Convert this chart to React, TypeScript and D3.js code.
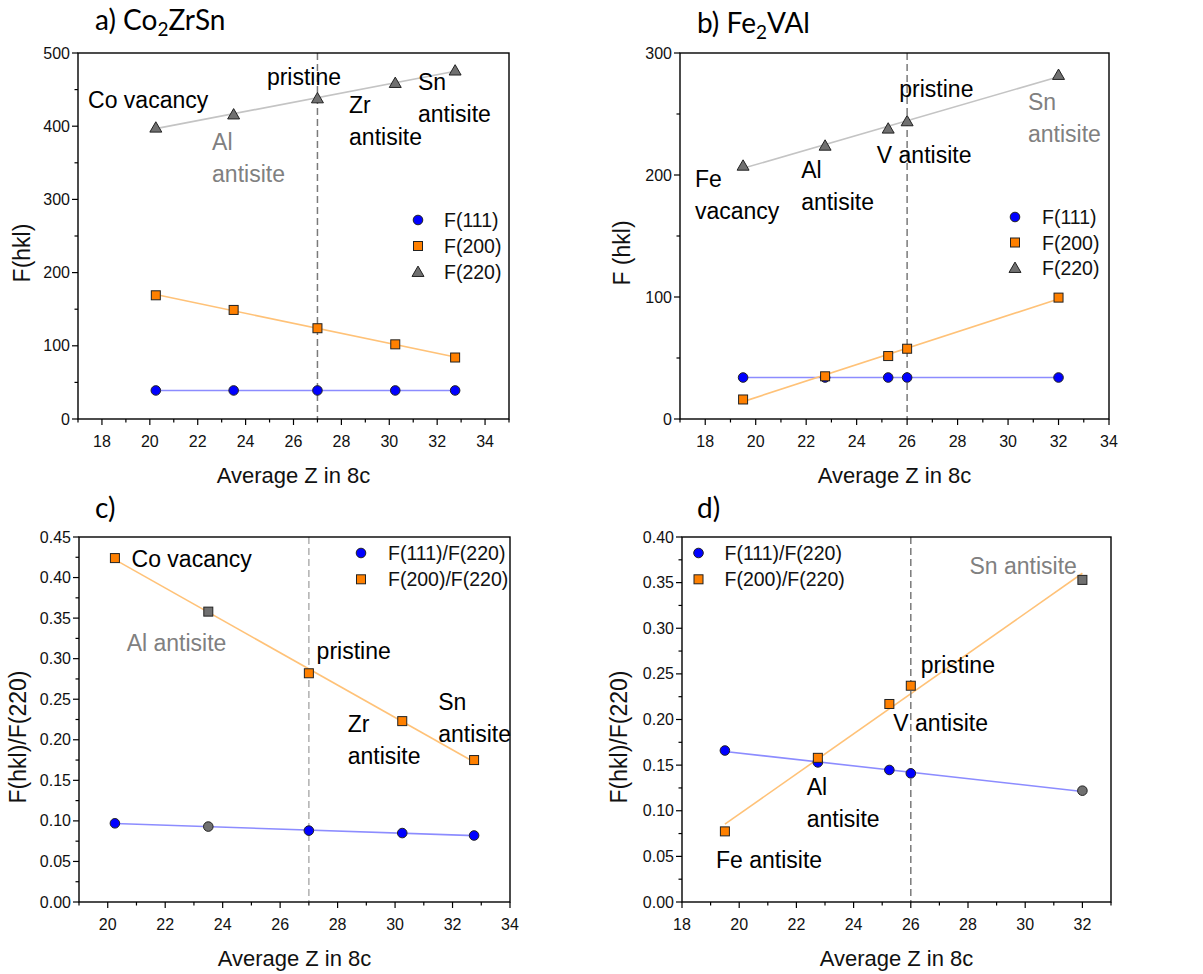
import React from "react";
import * as d3 from "d3";

// ---------- data ----------
const zA = [20.25, 23.5, 27, 30.25, 32.75];
const aF111 = [39, 39, 39, 39, 39];
const aF200 = [169, 149, 124, 102, 84];
const aF220 = [398, 416, 438, 459, 476];

const zB = [19.5, 22.75, 25.25, 26, 32];
const bF111 = [34, 34, 34, 34, 34];
const bF200 = [16, 35, 51.6, 57.6, 99.5];
const bF220 = [207.6, 224, 238, 244, 282];

const cR111 = [0.097, 0.093, 0.088, 0.085, 0.082];
const cR200 = [0.424, 0.358, 0.282, 0.223, 0.175];

const dR111 = [0.166, 0.153, 0.1447, 0.141, 0.122];
const dR200 = [0.0774, 0.158, 0.217, 0.237, 0.353];

const legendAB = ["F(111)", "F(200)", "F(220)"];
const legendCD = ["F(111)/F(220)", "F(200)/F(220)"];

// ---------- styles ----------
const BLUE = "#0000ff";
const ORANGE = "#ff8000";
const GRAY = "#707070";
const LBLUE = "#8c8cff";
const LORANGE = "#ffc278";
const LGRAY = "#c4c4c4";
const LABEL_FONT = "'Liberation Sans', Arial, sans-serif";
const TITLE_FONT = "Lato, 'Open Sans', sans-serif";

type Shape = "circle" | "square" | "triangle";
interface Series { values: number[]; shape: Shape; fill: string; line: string; grayIdx: number[]; }
interface Ann { x: number; y: number; lines: string[]; gray?: boolean; }
interface PanelCfg {
  left: number; top: number; right: number; bottom: number;
  xDom: [number, number]; xTicks: number[]; xMinor: number[];
  yDom: [number, number]; yStep: number; yDec: number;
  z: number[]; series: Series[]; vline: number; vlineColor: string;
  anns: Ann[]; legend: string[]; legendShapes: Shape[]; legendFills: string[];
  legX: number; legY: number; legDy: number; legTextDx: number;
  title: React.ReactNode; titleX: number; titleY: number;
  yLabel: string; yLabelX: number; yLabelY: number;
}

function fit(xs: number[], ys: number[]) {
  const mx = d3.mean(xs)!; const my = d3.mean(ys)!;
  let sxy = 0, sxx = 0;
  xs.forEach((x, i) => { sxy += (x - mx) * (ys[i] - my); sxx += (x - mx) ** 2; });
  const b = sxx === 0 ? 0 : sxy / sxx;
  return (x: number) => my + b * (x - mx);
}

function Marker({ shape, cx, cy, fill }: { shape: Shape; cx: number; cy: number; fill: string }) {
  const st = { fill, stroke: "#222", strokeWidth: 1 };
  if (shape === "circle") return <circle cx={cx} cy={cy} r={4.8} {...st} />;
  if (shape === "square") return <rect x={cx - 4.5} y={cy - 4.5} width={9} height={9} {...st} />;
  const sym = d3.symbol().type(d3.symbolTriangle).size(62)();
  return <path d={sym || ""} transform={`translate(${cx},${cy + 1})`} {...st} />;
}

function Panel({ c }: { c: PanelCfg }) {
  const x = d3.scaleLinear().domain(c.xDom).range([c.left, c.right]);
  const y = d3.scaleLinear().domain(c.yDom).range([c.bottom, c.top]);
  const yMaj = d3.range(c.yDom[0], c.yDom[1] + c.yStep / 2, c.yStep);
  const yMin = d3.range(c.yDom[0] + c.yStep / 2, c.yDom[1], c.yStep);
  const xmin = d3.min(c.z)!, xmax = d3.max(c.z)!;
  return (
    <g>
      {c.series.map((s, i) => {
        const f = fit(c.z, s.values);
        return <line key={"l" + i} x1={x(xmin)} x2={x(xmax)} y1={y(f(xmin))} y2={y(f(xmax))}
          stroke={s.line} strokeWidth={1.6} />;
      })}
      <line x1={x(c.vline)} x2={x(c.vline)} y1={c.top} y2={c.bottom} stroke={c.vlineColor}
        strokeWidth={1.5} strokeDasharray="7,4" />
      {c.series.map((s, i) => s.values.map((v, j) => (
        <Marker key={`m${i}-${j}`} shape={s.shape} cx={x(c.z[j])} cy={y(v)}
          fill={s.grayIdx.includes(j) ? GRAY : s.fill} />
      )))}
      <rect x={c.left} y={c.top} width={c.right - c.left} height={c.bottom - c.top}
        fill="none" stroke="#000" strokeWidth={1.4} />
      {yMaj.map((v, i) => (
        <g key={"yt" + i}>
          <line x1={c.left - 6} x2={c.left} y1={y(v)} y2={y(v)} stroke="#000" strokeWidth={1.2} />
          <text x={c.left - 8} y={y(v)} textAnchor="end" dominantBaseline="central"
            fontFamily={LABEL_FONT} fontSize={16} fill="#111">{v.toFixed(c.yDec)}</text>
        </g>
      ))}
      {yMin.map((v, i) => (
        <line key={"ym" + i} x1={c.left - 3.5} x2={c.left} y1={y(v)} y2={y(v)} stroke="#000" strokeWidth={1.2} />
      ))}
      {c.xTicks.map((v, i) => (
        <g key={"xt" + i}>
          <line x1={x(v)} x2={x(v)} y1={c.bottom} y2={c.bottom + 6} stroke="#000" strokeWidth={1.2} />
          <text x={x(v)} y={c.bottom + 22} textAnchor="middle" dominantBaseline="central"
            fontFamily={LABEL_FONT} fontSize={16} fill="#111">{v}</text>
        </g>
      ))}
      {c.xMinor.map((v, i) => (
        <line key={"xm" + i} x1={x(v)} x2={x(v)} y1={c.bottom} y2={c.bottom + 3.5} stroke="#000" strokeWidth={1.2} />
      ))}
      <text x={(c.left + c.right) / 2} y={c.bottom + 64} textAnchor="middle"
        fontFamily={LABEL_FONT} fontSize={22} fill="#111">Average Z in 8c</text>
      <text transform={`translate(${c.yLabelX},${c.yLabelY}) rotate(-90)`} textAnchor="middle"
        dominantBaseline="central" fontFamily={LABEL_FONT} fontSize={23} fill="#111">{c.yLabel}</text>
      {c.anns.map((a, i) => (
        <text key={"a" + i} x={x(a.x)} y={y(a.y)} fontFamily={LABEL_FONT} fontSize={23}
          fill={a.gray ? "#808080" : "#000"}>
          {a.lines.map((ln, k) => <tspan key={k} x={x(a.x)} dy={k === 0 ? 0 : 32}>{ln}</tspan>)}
        </text>
      ))}
      {c.legend.map((t, i) => (
        <g key={"lg" + i}>
          <Marker shape={c.legendShapes[i]} cx={c.left + c.legX} cy={c.top + c.legY + i * c.legDy}
            fill={c.legendFills[i]} />
          <text x={c.left + c.legX + c.legTextDx} y={c.top + c.legY + i * c.legDy}
            dominantBaseline="central" fontFamily={LABEL_FONT} fontSize={19.5} fill="#111">{t}</text>
        </g>
      ))}
      <text x={c.titleX} y={c.titleY} fontFamily={TITLE_FONT} fontSize={28} fill="#000">{c.title}</text>
    </g>
  );
}

const sub = (s: string) => <tspan fontSize={19} dy={6}>{s}</tspan>;
const up = (s: string) => <tspan dy={-6}>{s}</tspan>;

const panels: PanelCfg[] = [
  {
    left: 78, top: 53, right: 509, bottom: 419,
    xDom: [17, 35], xTicks: d3.range(18, 35, 2), xMinor: d3.range(17, 36, 2),
    yDom: [0, 500], yStep: 100, yDec: 0, z: zA,
    series: [
      { values: aF111, shape: "circle", fill: BLUE, line: LBLUE, grayIdx: [] },
      { values: aF200, shape: "square", fill: ORANGE, line: LORANGE, grayIdx: [] },
      { values: aF220, shape: "triangle", fill: GRAY, line: LGRAY, grayIdx: [] },
    ],
    vline: 27, vlineColor: "#7a7a7a",
    anns: [
      { x: 17.42, y: 425, lines: ["Co vacancy"] },
      { x: 24.89, y: 456, lines: ["pristine"] },
      { x: 28.32, y: 418, lines: ["Zr", "antisite"] },
      { x: 31.2, y: 449, lines: ["Sn", "antisite"] },
      { x: 22.6, y: 367, lines: ["Al", "antisite"], gray: true },
    ],
    legend: legendAB, legendShapes: ["circle", "square", "triangle"], legendFills: [BLUE, ORANGE, GRAY],
    legX: 340, legY: 167, legDy: 26, legTextDx: 26,
    title: <>a) Co{sub("2")}{up("ZrSn")}</>, titleX: 95, titleY: 30,
    yLabel: "F(hkl)", yLabelX: 22, yLabelY: 253,
  },
  {
    left: 680, top: 53, right: 1109, bottom: 419,
    xDom: [17, 34], xTicks: d3.range(18, 35, 2), xMinor: d3.range(17, 34, 2),
    yDom: [0, 300], yStep: 100, yDec: 0, z: zB,
    series: [
      { values: bF111, shape: "circle", fill: BLUE, line: LBLUE, grayIdx: [] },
      { values: bF200, shape: "square", fill: ORANGE, line: LORANGE, grayIdx: [] },
      { values: bF220, shape: "triangle", fill: GRAY, line: LGRAY, grayIdx: [] },
    ],
    vline: 26, vlineColor: "#7a7a7a",
    anns: [
      { x: 17.59, y: 190, lines: ["Fe", "vacancy"] },
      { x: 21.8, y: 197.5, lines: ["Al", "antisite"] },
      { x: 24.8, y: 210, lines: ["V antisite"] },
      { x: 25.69, y: 264, lines: ["pristine"] },
      { x: 30.79, y: 253, lines: ["Sn", "antisite"], gray: true },
    ],
    legend: legendAB, legendShapes: ["circle", "square", "triangle"], legendFills: [BLUE, ORANGE, GRAY],
    legX: 335, legY: 164, legDy: 25.5, legTextDx: 27,
    title: <>b) Fe{sub("2")}{up("VAl")}</>, titleX: 697, titleY: 33,
    yLabel: "F (hkl)", yLabelX: 622, yLabelY: 253,
  },
  {
    left: 79, top: 537, right: 510, bottom: 902,
    xDom: [19, 34], xTicks: d3.range(20, 35, 2), xMinor: d3.range(19, 34, 2),
    yDom: [0, 0.45], yStep: 0.05, yDec: 2, z: zA,
    series: [
      { values: cR111, shape: "circle", fill: BLUE, line: LBLUE, grayIdx: [1] },
      { values: cR200, shape: "square", fill: ORANGE, line: LORANGE, grayIdx: [1] },
    ],
    vline: 27, vlineColor: "#b0b0b0",
    anns: [
      { x: 20.83, y: 0.4127, lines: ["Co vacancy"] },
      { x: 20.66, y: 0.31, lines: ["Al antisite"], gray: true },
      { x: 27.27, y: 0.2996, lines: ["pristine"] },
      { x: 28.35, y: 0.2096, lines: ["Zr", "antisite"] },
      { x: 31.5, y: 0.237, lines: ["Sn", "antisite"] },
    ],
    legend: legendCD, legendShapes: ["circle", "square"], legendFills: [BLUE, ORANGE],
    legX: 282, legY: 16, legDy: 26.3, legTextDx: 27,
    title: <>c)</>, titleX: 95, titleY: 518,
    yLabel: "F(hkl)/F(220)", yLabelX: 18, yLabelY: 737,
  },
  {
    left: 682, top: 537, right: 1111, bottom: 902,
    xDom: [18, 33], xTicks: d3.range(18, 33, 2), xMinor: d3.range(19, 34, 2),
    yDom: [0, 0.4], yStep: 0.05, yDec: 2, z: zB,
    series: [
      { values: dR111, shape: "circle", fill: BLUE, line: LBLUE, grayIdx: [4] },
      { values: dR200, shape: "square", fill: ORANGE, line: LORANGE, grayIdx: [4] },
    ],
    vline: 26, vlineColor: "#7a7a7a",
    anns: [
      { x: 28.05, y: 0.3595, lines: ["Sn antisite"], gray: true },
      { x: 26.35, y: 0.2513, lines: ["pristine"] },
      { x: 25.39, y: 0.1877, lines: ["V antisite"] },
      { x: 22.36, y: 0.1173, lines: ["Al", "antisite"] },
      { x: 19.19, y: 0.0376, lines: ["Fe antisite"] },
    ],
    legend: legendCD, legendShapes: ["circle", "square"], legendFills: [BLUE, ORANGE],
    legX: 16.5, legY: 16, legDy: 26.3, legTextDx: 26,
    title: <>d)</>, titleX: 697, titleY: 518,
    yLabel: "F(hkl)/F(220)", yLabelX: 619, yLabelY: 737,
  },
];

export default function App() {
  return (
    <svg width={1203} height={974} style={{ position: "absolute", left: 0, top: 0, background: "#fff" }}>
      <rect width={1203} height={974} fill="#fff" />
      {panels.map((p, i) => <Panel key={i} c={p} />)}
    </svg>
  );
}
